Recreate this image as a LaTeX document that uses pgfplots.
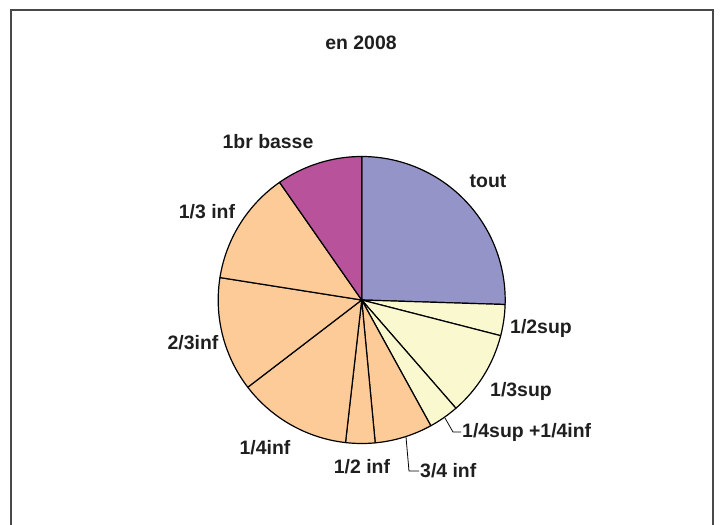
\documentclass[border=0pt]{standalone}
\usepackage{pgfplots}
\pgfplotsset{compat=1.18}
\usepackage{fontspec}
\setmainfont{Liberation Sans}

\definecolor{cTout}{RGB}{148,148,200}
\definecolor{cSup}{RGB}{250,248,206}
\definecolor{cInf}{RGB}{252,203,152}
\definecolor{cBasse}{RGB}{183,82,155}
\definecolor{cFrame}{RGB}{72,72,72}

\tikzset{lbl/.style={font=\fontsize{19.5}{23}\selectfont\bfseries, text=black!88, inner sep=0pt}}

% pie geometry (axis units = 1bp)
\def\cx{361.7}
\def\cy{225}
\def\rr{143.5}
\gdef\cum{0}

% one slice: share in percent, fill colour; slices run clockwise from 12 o'clock
\newcommand\pieslice[2]{%
  \pgfmathsetmacro\angA{\cum*3.6}%
  \pgfmathsetmacro\angB{(\cum+#1)*3.6}%
  \edef\doslice{\noexpand\addplot[fill=#2, draw=black, line width=1.2pt,
      line join=round, domain=\angA:\angB, samples=80]
      ({\cx+\rr*sin(x)},{\cy+\rr*cos(x)}) -- (axis cs:\cx,\cy) -- cycle;}%
  \doslice
  \pgfmathsetmacro\newcum{\cum+#1}%
  \xdef\cum{\newcum}%
}

\begin{document}
\begin{tikzpicture}
\begin{axis}[
  scale only axis, width=720bp, height=525bp,
  xmin=0, xmax=720, ymin=0, ymax=525,
  hide axis, clip=true,
]
% outer frame
\addplot[cFrame, line width=2pt, no marks] coordinates {(11,0) (11,515) (713,515) (713,0)};

% slices (percent)
\pieslice{25.5}{cTout}   % tout
\pieslice{3.5}{cSup}     % 1/2sup
\pieslice{9.6}{cSup}     % 1/3sup
\pieslice{3.4}{cSup}     % 1/4sup +1/4inf
\pieslice{6.5}{cInf}     % 3/4 inf
\pieslice{3.3}{cInf}     % 1/2 inf
\pieslice{12.8}{cInf}    % 1/4inf
\pieslice{12.9}{cInf}    % 2/3inf
\pieslice{12.8}{cInf}    % 1/3 inf
\pieslice{9.7}{cBasse}   % 1br basse

% leader lines
\addplot[black, line width=0.8pt, no marks] coordinates {(445,107) (453,93) (461,93)};
\addplot[black, line width=0.8pt, no marks] coordinates {(406,88) (409,54) (419,54)};

% title and labels
\node[lbl, anchor=base] at (axis cs:361,475) {en 2008};
\node[lbl, anchor=base] at (axis cs:268,376) {1br basse};
\node[lbl, anchor=base] at (axis cs:488,337) {tout};
\node[lbl, anchor=base] at (axis cs:207,306) {1/3 inf};
\node[lbl, anchor=base] at (axis cs:193,175) {2/3inf};
\node[lbl, anchor=base] at (axis cs:541,191) {1/2sup};
\node[lbl, anchor=base] at (axis cs:521,128) {1/3sup};
\node[lbl, anchor=base west] at (axis cs:462,87) {1/4sup +1/4inf};
\node[lbl, anchor=base west] at (axis cs:420,47.5) {3/4 inf};
\node[lbl, anchor=base] at (axis cs:362,51.5) {1/2 inf};
\node[lbl, anchor=base] at (axis cs:265,70) {1/4inf};
\end{axis}
\pgfresetboundingbox
\path (0,0) rectangle (720bp,525bp);
\end{tikzpicture}
\end{document}
